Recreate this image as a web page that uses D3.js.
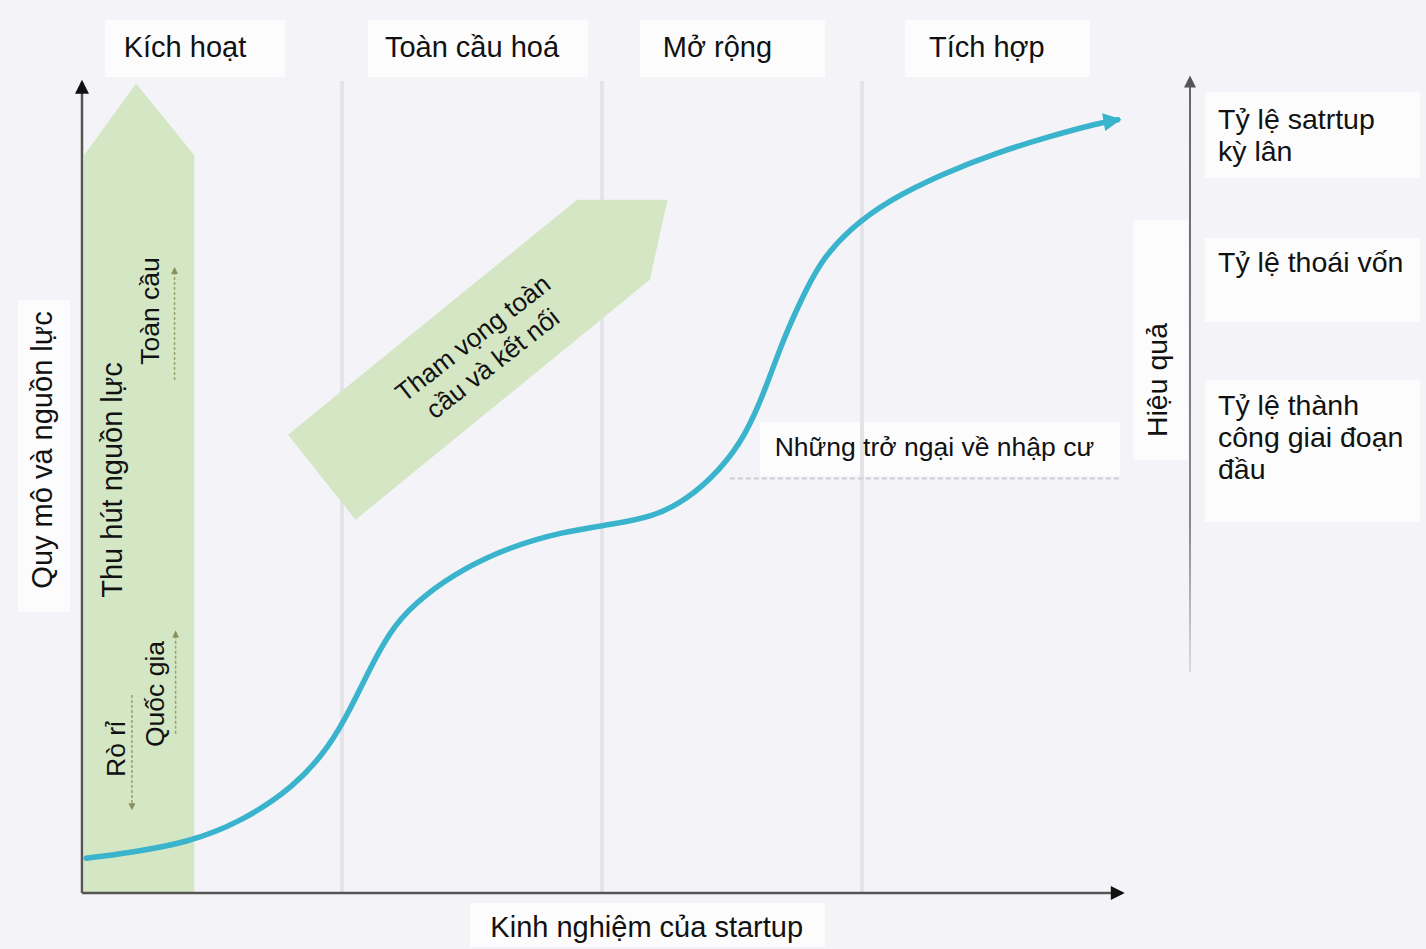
<!DOCTYPE html>
<html lang="vi">
<head>
<meta charset="UTF-8">
<title>Kinh nghiệm của startup</title>
<script src="https://cdn.jsdelivr.net/npm/d3@7/dist/d3.min.js"></script>
<style>
    body { margin: 0; background: #f4f4f8; }
    svg text { font-family: "Liberation Sans", Arial, sans-serif; fill: #111; }
</style>
</head>
<body>
<svg id="chart" width="1426" height="949"></svg>
<script>
    // phases along the x axis (0..100 = experience)
    const phases = ['Kích hoạt', 'Toàn cầu hoá', 'Mở rộng', 'Tích hợp'];
    const phaseLabelX = [9.9, 37.5, 61.1, 87];
    const phaseBounds = [25, 50, 75];

    // growth curve (x: experience, y: scale & resources)
    const curveX = [0.4, 4.6, 10.1, 15.3, 20.4, 23.8, 25.9, 28.0, 30.0, 32.8, 36.9, 41.1, 46.2, 50.8,
                    54.8, 58.1, 61.4, 63.8, 65.7, 67.3, 69.0, 70.9, 73.7, 77.6, 82.9, 87.9, 92.9, 97.8, 99.6];
    const curveY = [4.3, 5.0, 6.2, 8.8, 13.1, 18.1, 23.0, 28.6, 33.2, 36.8, 40.3, 42.8, 44.7, 45.6,
                    46.5, 48.6, 52.4, 56.6, 62.3, 68.1, 73.0, 78.0, 82.1, 85.8, 89.1, 91.6, 93.6, 95.3, 95.7];

    // right axis (performance) labels
    const rightLabels = [['Tỷ lệ satrtup', 'kỳ lân'], ['Tỷ lệ thoái vốn'], ['Tỷ lệ thành', 'công giai đoạn', 'đầu']];
    const rightLabelY = [94.6, 76.9, 59.2];

    // green annotation arrows (data units)
    const bandArrow = [[0.2, 0], [0.2, 91.3], [5.2, 100.2], [10.8, 91.3], [10.8, 0]];
    const diagArrow = [[19.8, 56.7], [47.6, 85.8], [56.3, 85.8], [54.6, 75.9], [26.3, 46.2]];

    const svg = d3.select('#chart');
    const x = d3.scaleLinear().domain([0, 100]).range([82, 1122]);
    const y = d3.scaleLinear().domain([0, 100]).range([893, 85]);

    const defs = svg.append('defs');
    function marker(id, color, w, h) {
        defs.append('marker').attr('id', id)
            .attr('viewBox', '0 0 10 10').attr('refX', 8).attr('refY', 5)
            .attr('markerWidth', w).attr('markerHeight', h)
            .attr('markerUnits', 'userSpaceOnUse').attr('orient', 'auto')
            .append('path').attr('d', 'M0,0 L10,5 L0,10 Z').attr('fill', color);
    }
    marker('arrBlack', '#111', 16, 14);
    marker('arrGray', '#555', 14, 12);
    marker('arrBlue', '#3ab3cc', 22, 18);
    marker('arrOlive', '#8b8f5a', 8, 7);

    let fade = defs.append('linearGradient').attr('id', 'fade')
        .attr('x1', 0).attr('y1', 0).attr('x2', 0).attr('y2', 1);
    fade.append('stop').attr('offset', '0%').attr('stop-color', '#666');
    fade.append('stop').attr('offset', '75%').attr('stop-color', '#888');
    fade.append('stop').attr('offset', '100%').attr('stop-color', '#ddd');

    // white boxes behind labels
    const boxes = [[105, 20, 180, 57], [368, 20, 220, 57], [640, 20, 185, 57], [905, 20, 185, 57],
                   [18, 300, 52, 312], [470, 903, 355, 44], [760, 422, 360, 54],
                   [1133, 220, 55, 240], [1205, 92, 215, 86], [1205, 238, 215, 84], [1205, 380, 215, 142]];
    svg.append('g').selectAll('rect').data(boxes).join('rect')
        .attr('x', d => d[0]).attr('y', d => d[1]).attr('width', d => d[2]).attr('height', d => d[3])
        .attr('fill', '#fff').attr('opacity', 0.7);

    // phase separators
    svg.append('g').selectAll('line').data(phaseBounds).join('line')
        .attr('x1', d => x(d)).attr('x2', d => x(d))
        .attr('y1', y(100.5)).attr('y2', y(0))
        .attr('stroke', '#e3e3e8').attr('stroke-width', 4);

    // green arrows
    const poly = d3.line().x(d => x(d[0])).y(d => y(d[1]));
    svg.append('path').attr('d', poly(bandArrow) + 'Z').attr('fill', '#d4e7c5');
    svg.append('path').attr('d', poly(diagArrow) + 'Z').attr('fill', '#d4e6c4');

    // phase labels
    svg.append('g').selectAll('text').data(phases).join('text')
        .attr('x', (d, i) => x(phaseLabelX[i])).attr('y', 57)
        .attr('text-anchor', 'middle').attr('font-size', 29).text(d => d);

    // dashed reference for immigration barriers
    svg.append('line')
        .attr('x1', x(62.3)).attr('x2', x(100)).attr('y1', y(51.3)).attr('y2', y(51.3))
        .attr('stroke', '#cfcfd3').attr('stroke-width', 2).attr('stroke-dasharray', '5,3');
    svg.append('text').attr('x', x(66.6)).attr('y', 456)
        .attr('font-size', 26.5).text('Những trở ngại về nhập cư');

    // axes (no ticks)
    const xAxis = svg.append('g').attr('transform', 'translate(0,' + y(0) + ')')
        .call(d3.axisBottom(x).ticks(0).tickSizeOuter(0));
    xAxis.select('.domain').attr('stroke', '#555').attr('stroke-width', 2.5)
        .attr('d', 'M' + x(0) + ',0H' + x(100)).attr('marker-end', 'url(#arrBlack)');
    const yAxis = svg.append('g').attr('transform', 'translate(' + x(0) + ',0)')
        .call(d3.axisLeft(y).ticks(0).tickSizeOuter(0));
    yAxis.select('.domain').attr('stroke', '#555').attr('stroke-width', 2.5)
        .attr('d', 'M0,' + y(0) + 'V' + y(100.3)).attr('marker-end', 'url(#arrBlack)');

    // right performance axis
    svg.append('line').attr('x1', 1190).attr('x2', 1190.01).attr('y1', 672).attr('y2', 78)
        .attr('stroke', 'url(#fade)').attr('stroke-width', 2).attr('marker-end', 'url(#arrGray)');

    // growth curve
    const pts = curveX.map((d, i) => [d, curveY[i]]);
    svg.append('path')
        .attr('d', d3.line().x(d => x(d[0])).y(d => y(d[1])).curve(d3.curveBasis)(pts))
        .attr('fill', 'none').attr('stroke', '#3ab3cc').attr('stroke-width', 5.5)
        .attr('stroke-linecap', 'round').attr('marker-end', 'url(#arrBlue)');

    // small inner arrows in the band
    const smallArrows = [[8.9, 63.5, 8.9, 77.3], [9.0, 19.7, 9.0, 32.3], [4.8, 24.5, 4.8, 10.4]];
    svg.append('g').selectAll('line').data(smallArrows).join('line')
        .attr('x1', d => x(d[0])).attr('y1', d => y(d[1])).attr('x2', d => x(d[2])).attr('y2', d => y(d[3]))
        .attr('stroke', '#9aa06a').attr('stroke-width', 1.5).attr('stroke-dasharray', '3,2')
        .attr('marker-end', 'url(#arrOlive)');

    // rotated labels
    function vtext(cx, cy, txt, size) {
        svg.append('text').attr('transform', 'translate(' + cx + ',' + cy + ') rotate(-90)')
            .attr('text-anchor', 'middle').attr('dy', '0.35em').attr('font-size', size).text(txt);
    }
    vtext(42, 450, 'Quy mô và nguồn lực', 29);
    vtext(112, 480, 'Thu hút nguồn lực', 29);
    vtext(150, 311, 'Toàn cầu', 26.5);
    vtext(155, 694, 'Quốc gia', 26.5);
    vtext(116, 749, 'Rò rỉ', 26.5);
    vtext(1157, 380, 'Hiệu quả', 28.5);

    const diag = svg.append('g').attr('transform', 'translate(482,350) rotate(-38)');
    diag.append('text').attr('text-anchor', 'middle').attr('y', -6).attr('font-size', 26).text('Tham vọng toàn');
    diag.append('text').attr('text-anchor', 'middle').attr('y', 26).attr('font-size', 26).text('cầu và kết nối');

    // bottom axis title
    svg.append('text').attr('x', x(54.3)).attr('y', 937).attr('text-anchor', 'middle')
        .attr('font-size', 29).text('Kinh nghiệm của startup');

    // right labels
    const rl = svg.append('g').selectAll('text').data(rightLabels).join('text')
        .attr('x', 1218).attr('y', (d, i) => y(rightLabelY[i])).attr('font-size', 28.5);
    rl.selectAll('tspan').data(d => d).join('tspan')
        .attr('x', 1218).attr('dy', (d, i) => i === 0 ? 0 : 32).text(d => d);
</script>
</body>
</html>
